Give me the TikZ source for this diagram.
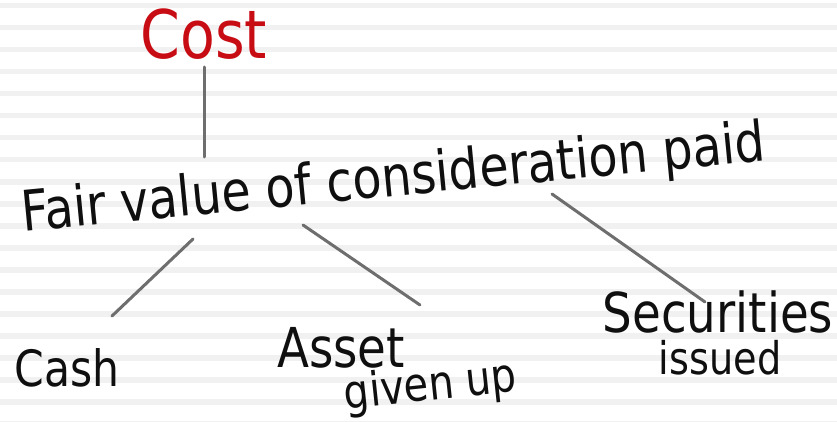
\documentclass[tikz,border=0pt]{standalone}
\usepackage{fontspec}
\newfontfamily\hand[FakeStretch=0.85]{DejaVu Sans}
\definecolor{rulegray}{RGB}{241,241,241}
\definecolor{linegray}{RGB}{110,110,110}
\definecolor{costred}{RGB}{200,12,20}
\definecolor{ink}{RGB}{15,15,15}
\tikzset{
  hw/.style={inner sep=0pt, text=ink},
  link/.style={draw=linegray, line width=3pt, line cap=round},
}
\newcommand{\hsz}[1]{\hand\fontsize{#1}{#1}\selectfont}
\begin{document}
\begin{tikzpicture}[x=1pt,y=-1pt]
\useasboundingbox (0,0) rectangle (837,422);
\fill[white] (0,0) rectangle (837,422);
\foreach \k in {0,...,19} \fill[rulegray] (0,{3+22*\k}) rectangle (837,{8.5+22*\k});

% texts
\node[hw, text=costred, font=\hsz{67}, anchor=base] (cost) at (204,59) {Cost};
\node[hw, font=\hsz{56}, rotate=5.5, anchor=base] (fv) at (395,196) {Fair value of consideration paid};
\node[hw, font=\hsz{50}, anchor=base] (cash) at (67,386) {Cash};
\node[hw, font=\hsz{55}, anchor=base] (asset) at (341,367) {Asset};
\node[hw, font=\hsz{47}, rotate=6, anchor=base] (given) at (432,400) {given up};
\node[hw, font=\hsz{55}, anchor=base] (sec) at (718,332) {Securities};
\node[hw, font=\hsz{45}, anchor=base] (iss) at (720,374) {issued};

% connector end points
\coordinate (cost-b) at (204,67);
\coordinate (fv-t) at (204,157);
\coordinate (fv-l) at (193,239);
\coordinate (cash-t) at (112,316);
\coordinate (fv-m) at (303,225);
\coordinate (asset-t) at (420,305);
\coordinate (fv-r) at (552,194);
\coordinate (sec-t) at (705,302);

\draw[link] (cost-b) -- (fv-t);
\draw[link] (fv-l) -- (cash-t);
\draw[link] (fv-m) -- (asset-t);
\draw[link] (fv-r) -- (sec-t);
\end{tikzpicture}
\end{document}
